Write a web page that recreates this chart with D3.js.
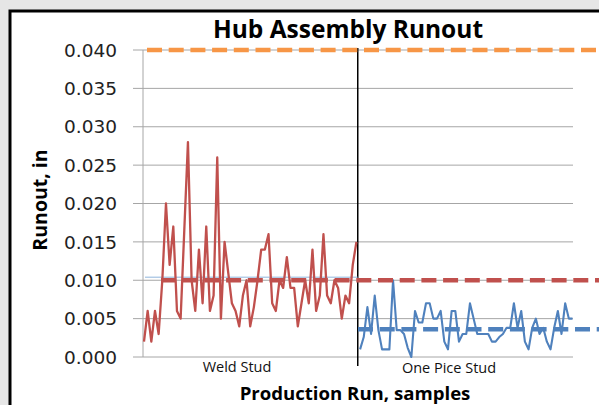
<!DOCTYPE html>
<html>
<head>
<meta charset="utf-8">
<script src="https://cdn.jsdelivr.net/npm/d3@7"></script>
<style>
  body { margin: 0; background: #e6e6e6; }
  svg { display: block; }
</style>
</head>
<body>
<svg id="chart" width="599" height="405"></svg>
<script>
// runout readings, inches
var weldStud = [0.002, 0.006, 0.002, 0.006, 0.003, 0.010, 0.020, 0.012, 0.017, 0.006,
  0.005, 0.0165, 0.028, 0.010, 0.006, 0.014, 0.007, 0.017, 0.006, 0.008,
  0.026, 0.005, 0.015, 0.011, 0.007, 0.006, 0.004, 0.008, 0.010, 0.004,
  0.0065, 0.010, 0.014, 0.014, 0.016, 0.007, 0.006, 0.010, 0.009, 0.013,
  0.009, 0.009, 0.004, 0.007, 0.010, 0.007, 0.014, 0.006, 0.008, 0.016,
  0.008, 0.007, 0.010, 0.009, 0.005, 0.008, 0.007, 0.012, 0.015];

var onePiece = [0.001, 0.0026, 0.0065, 0.003, 0.008, 0.0035, 0.001, 0.001, 0.001, 0.010,
  0.0035, 0.0035, 0.003, 0.0012, 0.000, 0.006, 0.0045, 0.0045, 0.007, 0.007,
  0.005, 0.005, 0.006, 0.002, 0.001, 0.006, 0.006, 0.002, 0.003, 0.003,
  0.007, 0.005, 0.003, 0.003, 0.003, 0.003, 0.002, 0.002, 0.0026, 0.003,
  0.0038, 0.0038, 0.007, 0.0038, 0.006, 0.002, 0.001, 0.0038, 0.005, 0.003,
  0.0038, 0.002, 0.001, 0.0038, 0.006, 0.003, 0.007, 0.005, 0.005];

var yTicks = [0, 0.005, 0.010, 0.015, 0.020, 0.025, 0.030, 0.035, 0.040];
var groups = ["Weld Stud", "One Pice Stud"];

var limitUpper = 0.040;   // orange
var weldMean = 0.010;     // red dashed
var weldAvgThin = 0.0104; // thin light blue
var pieceMean = 0.0036;   // blue dashed

var svg = d3.select("#chart");

// white panel with black frame
svg.append("rect")
  .attr("x", 10).attr("y", 11)
  .attr("width", 640).attr("height", 420)
  .attr("fill", "#fff")
  .attr("stroke", "#000")
  .attr("stroke-width", 3);

var nTotal = weldStud.length + onePiece.length;

var x = d3.scaleLinear()
  .domain([0, nTotal - 1])
  .range([144, 572.5]);

var y = d3.scaleLinear()
  .domain([0, 0.04])
  .range([357, 50]);

// grid lines
svg.append("g")
  .selectAll("line")
  .data(yTicks)
  .join("line")
  .attr("x1", 133).attr("x2", 573)
  .attr("y1", d => y(d)).attr("y2", d => y(d))
  .attr("stroke", "#a6a6a6")
  .attr("stroke-width", 1);

// y axis line
svg.append("line")
  .attr("x1", 143).attr("x2", 143)
  .attr("y1", y(0.04)).attr("y2", y(0))
  .attr("stroke", "#a6a6a6");

// tick labels
svg.append("g")
  .selectAll("text")
  .data(yTicks)
  .join("text")
  .attr("x", 117)
  .attr("y", d => y(d))
  .attr("dy", "0.36em")
  .attr("text-anchor", "end")
  .attr("font-family", "DejaVu Sans")
  .attr("font-size", 18.5)
  .attr("fill", "#222")
  .text(d3.format(".3f"));

// divider between the two groups
var divX = (x(weldStud.length - 1) + x(weldStud.length)) / 2 - 0.5;
svg.append("line")
  .attr("x1", divX).attr("x2", divX)
  .attr("y1", 48).attr("y2", 366)
  .attr("stroke", "#000")
  .attr("stroke-width", 1.5);

// thin average line on weld stud side
svg.append("line")
  .attr("x1", 145).attr("x2", divX)
  .attr("y1", y(weldAvgThin)).attr("y2", y(weldAvgThin))
  .attr("stroke", "#8fb4dc")
  .attr("stroke-width", 1);

var line = d3.line()
  .x(d => x(d.i))
  .y(d => y(d.v));

var weldPts = weldStud.map((v, i) => ({ i: i, v: v }));
var piecePts = onePiece.map((v, i) => ({ i: i + weldStud.length, v: v }));

svg.append("path")
  .datum(weldPts)
  .attr("d", line)
  .attr("fill", "none")
  .attr("stroke", "#c0504d")
  .attr("stroke-width", 2.3)
  .attr("stroke-linejoin", "round");

svg.append("path")
  .datum(piecePts)
  .attr("d", line)
  .attr("fill", "none")
  .attr("stroke", "#4f81bd")
  .attr("stroke-width", 2.1)
  .attr("stroke-linejoin", "round");

// dashed limit / mean lines
function dashLine(x1, value, color) {
  svg.append("line")
    .attr("x1", x1).attr("x2", 610)
    .attr("y1", y(value)).attr("y2", y(value))
    .attr("stroke", color)
    .attr("stroke-width", 4.5)
    .attr("stroke-dasharray", "15 6.7");
}
dashLine(147, limitUpper, "#f79646");
dashLine(161, weldMean, "#c0504d");
dashLine(358, pieceMean, "#4f81bd");

// group labels
svg.append("g")
  .selectAll("text")
  .data(groups)
  .join("text")
  .attr("x", (d, i) => i === 0 ? 237 : 449)
  .attr("y", (d, i) => i === 0 ? 372 : 373)
  .attr("text-anchor", "middle")
  .attr("font-family", "Open Sans")
  .attr("font-size", 14.5)
  .attr("fill", "#111")
  .text(d => d);

// title and axis titles
svg.append("text")
  .attr("x", 348).attr("y", 38)
  .attr("text-anchor", "middle")
  .attr("font-family", "Open Sans")
  .attr("font-weight", "bold")
  .attr("font-size", 24.5)
  .text("Hub Assembly Runout");

svg.append("text")
  .attr("transform", "translate(47,200) rotate(-90)")
  .attr("text-anchor", "middle")
  .attr("font-family", "Open Sans")
  .attr("font-weight", "bold")
  .attr("font-size", 19.5)
  .text("Runout, in");

svg.append("text")
  .attr("x", 355).attr("y", 400)
  .attr("text-anchor", "middle")
  .attr("font-family", "Open Sans")
  .attr("font-weight", "bold")
  .attr("font-size", 18.6)
  .text("Production Run, samples");
</script>
</body>
</html>
